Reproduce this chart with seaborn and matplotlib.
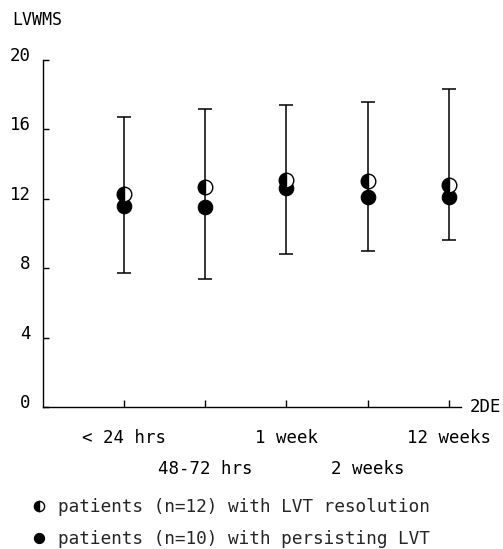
import numpy as np
import pandas as pd
import matplotlib
matplotlib.use("Agg")
import matplotlib.pyplot as plt
import seaborn as sns
from matplotlib.transforms import ScaledTranslation

# ---- data ----
time_labels = ["< 24 hrs", "48-72 hrs", "1 week", "2 weeks", "12 weeks"]
resolution_mean = [12.3, 12.7, 13.1, 13.0, 12.8]   # half-filled markers
persisting_mean = [11.6, 11.5, 12.6, 12.1, 12.1]   # filled markers
err_upper = [16.7, 17.2, 17.4, 17.6, 18.3]
err_lower = [7.7, 7.4, 8.8, 9.0, 9.6]
y_ticks = [0, 4, 8, 12, 16, 20]
label_resolution = "patients (n=12) with LVT resolution"
label_persisting = "patients (n=10) with persisting LVT"

sns.set_theme(style="ticks")
plt.rcParams["font.family"] = ["DejaVu Sans Mono", "DejaVu Sans"]

pos = np.arange(1, len(time_labels) + 1)
df = pd.DataFrame({
    "pos": pos,
    "resolution": resolution_mean,
    "persisting": persisting_mean,
    "upper": err_upper,
    "lower": err_lower,
})
mid = (df["upper"] + df["lower"]) / 2

fig = plt.figure(figsize=(5.03, 5.49), dpi=100)
ax = fig.add_axes([0.0855, 0.2587, 0.831, 0.632])

ax.errorbar(df["pos"], mid, yerr=[mid - df["lower"], df["upper"] - mid],
            fmt="none", ecolor="black", elinewidth=1.1, capsize=5,
            capthick=1.1, zorder=2)

sns.lineplot(data=df, x="pos", y="persisting", ax=ax, color="black",
             marker="o", linestyle="", linewidth=0, markersize=10.5,
             markeredgecolor="black", markerfacecolor="black",
             label=label_persisting, zorder=3)
sns.lineplot(data=df, x="pos", y="resolution", ax=ax, color="black",
             marker="o", linestyle="", linewidth=0, markersize=10.5,
             fillstyle="left", markerfacecolor="black",
             markerfacecoloralt="white", markeredgecolor="black",
             markeredgewidth=1.0, label=label_resolution, zorder=4)

handles, labels = ax.get_legend_handles_labels()
if ax.get_legend() is not None:
    ax.get_legend().remove()
hmap = dict(zip(labels, handles))
fig.legend(handles=[hmap[label_resolution], hmap[label_persisting]],
           labels=[label_resolution, label_persisting],
           loc="upper left", bbox_to_anchor=(32 / 503, 0.093),
           bbox_transform=fig.transFigure, frameon=False,
           handlelength=0.8, handletextpad=0.67, markerscale=0.7,
           labelspacing=0.78, fontsize=12.8, borderpad=0, borderaxespad=0)

ax.set_xlim(0, 5.15)
ax.set_ylim(0, 20)
ax.set_yticks(y_ticks)
ax.set_xticks(pos)
xt = [lab if i % 2 == 0 else "\n" + lab for i, lab in enumerate(time_labels)]
ax.set_xticklabels(xt)
for t in ax.get_xticklabels():
    t.set_linespacing(1.95)
ax.tick_params(axis="y", direction="in", length=4, width=1, pad=9,
               labelsize=12.5, colors="black")
ax.tick_params(axis="x", direction="in", length=5, width=1, pad=15.5,
               labelsize=12.5, colors="black")
offset = ScaledTranslation(0, 6 / 100, fig.dpi_scale_trans)
for t in ax.get_yticklabels():
    t.set_transform(t.get_transform() + offset)

ax.set_xlabel("")
ax.set_ylabel("")
sns.despine(ax=ax)
for s in ("left", "bottom"):
    ax.spines[s].set_linewidth(1.0)
    ax.spines[s].set_color("black")

ax.annotate("2DE", xy=(1, 0), xycoords="axes fraction", xytext=(6, 0),
            textcoords="offset points", va="center", ha="left",
            fontsize=12.5, color="black")
fig.text(12 / 503, 1 - 20 / 549, "LVWMS", va="center", ha="left",
         fontsize=12, color="black")

fig.savefig("out.png", dpi=100, facecolor="white")
